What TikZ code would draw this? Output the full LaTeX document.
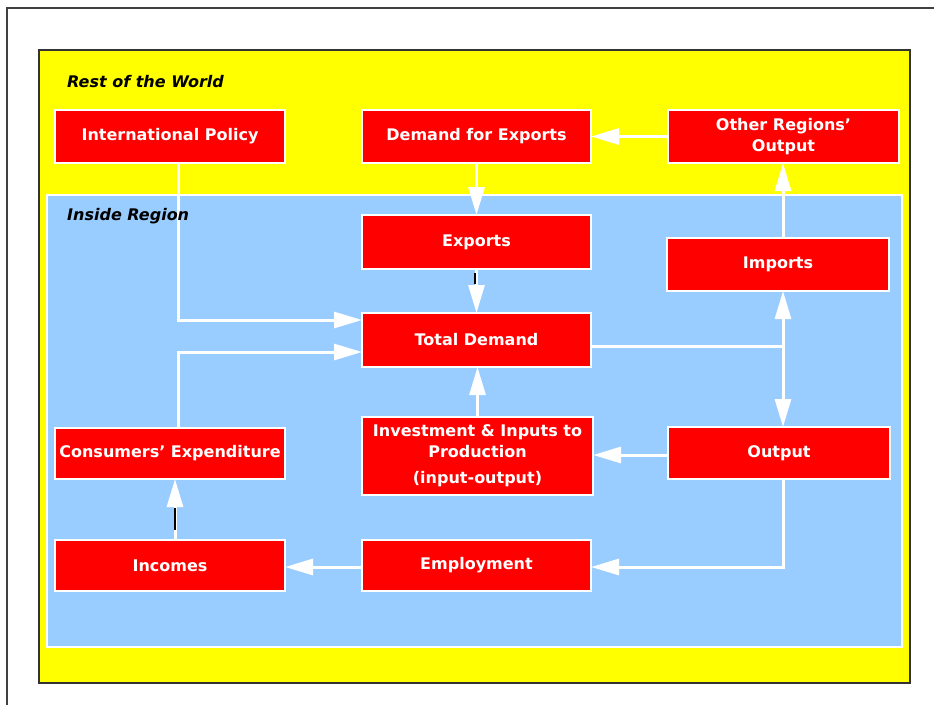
\documentclass[tikz,border=0pt]{standalone}
\usepackage{fontspec}
\setmainfont{DejaVu Sans}
\usetikzlibrary{arrows.meta}
\definecolor{boxred}{RGB}{255,0,0}
\definecolor{skyblue}{RGB}{153,204,255}
\definecolor{ylw}{RGB}{255,255,0}
\begin{document}
\begin{tikzpicture}[x=1pt,y=-1pt,
  box/.style={fill=boxred, draw=white, line width=1.2pt, text=white,
    font=\fontsize{16}{20.5}\selectfont\bfseries, align=center,
    inner sep=0pt, outer sep=0pt},
  flow/.style={draw=white, line width=3pt, -{Triangle[width=16pt,length=28pt]}},
  plain/.style={draw=white, line width=3pt},
  blacktick/.style={draw=black, line width=1.5pt},
  lbl/.style={font=\fontsize{16}{19}\selectfont\bfseries\itshape,
    anchor=base west, text=black, inner sep=0pt}]
\useasboundingbox (0,0) rectangle (934,704);
\clip (0,0) rectangle (934,704);
\fill[white] (0,0) rectangle (934,704);
\draw[black!75, line width=1.5pt] (7,720) -- (7,8) -- (950,8);
\draw[fill=ylw, draw=black!80, line width=2pt] (39,50) rectangle (910,683);
\draw[fill=skyblue, draw=white, line width=1.5pt] (47,195) rectangle (902,647);
% boxes
\node[box, minimum width=230pt, minimum height=53pt] (intl) at (170,136.5) {International Policy};
\node[box, minimum width=229pt, minimum height=53pt] (dfe) at (476.5,136.5) {Demand for Exports};
\node[box, minimum width=231pt, minimum height=53pt] (oro) at (783.5,136.5) {Other Regions'\\Output};
\node[box, minimum width=229pt, minimum height=54pt] (exp) at (476.5,242) {Exports};
\node[box, minimum width=222pt, minimum height=53pt] (imp) at (778,264.5) {Imports};
\node[box, minimum width=229pt, minimum height=54pt] (td) at (476.5,340) {Total Demand};
\node[box, minimum width=231pt, minimum height=78pt] (inv) at (477.5,456) {Investment \& Inputs to\\Production\\[6pt](input-output)};
\node[box, minimum width=222pt, minimum height=52pt] (out) at (779,453) {Output};
\node[box, minimum width=230pt, minimum height=51pt] (cons) at (170,453.5) {Consumers' Expenditure};
\node[box, minimum width=230pt, minimum height=51pt] (inc) at (170,565.5) {Incomes};
\node[box, minimum width=229pt, minimum height=51pt] (emp) at (476.5,565.5) {Employment};
% connectors
\coordinate (J) at (783,346);
\draw[flow] ([xshift=8pt]intl.south) |- ([yshift=20pt]td.west);
\draw[flow] ([xshift=8pt]cons.north) |- ([yshift=-12pt]td.west);
\draw[flow] (oro.west) -- (dfe.east);
\draw[flow] (dfe.south) -- (exp.north);
\draw[flow] (exp.south) -- (td.north);
\draw[flow] (inv.north) -- (inv.north |- td.south);
\draw[flow] ([yshift=-2pt]out.west) -- ([yshift=-2pt]out.west -| inv.east);
\draw[plain] ([yshift=-6pt]td.east) -- (J);
\draw[flow] (J) -- (J |- imp.south);
\draw[flow] (J) -- (J |- out.north);
\draw[flow] (J |- imp.north) -- (J |- oro.south);
\draw[flow] (J |- out.south) |- ([yshift=-1.5pt]emp.east);
\draw[flow] ([yshift=-1.5pt]emp.west) -- ([yshift=-1.5pt]inc.east);
\draw[flow] ([xshift=5pt]inc.north) -- ([xshift=5pt]cons.south);
% small black marks
\draw[blacktick] ([xshift=-1.5pt,yshift=-4pt]exp.south) -- ([xshift=-1.5pt,yshift=-15pt]exp.south);
\draw[blacktick] ([xshift=5pt,yshift=10pt]inc.north) -- ([xshift=5pt,yshift=32pt]inc.north);
% region labels
\node[lbl] (rw) at (67,87) {Rest of the World};
\node[lbl] (ir) at (67,220) {Inside Region};
\end{tikzpicture}
\end{document}
